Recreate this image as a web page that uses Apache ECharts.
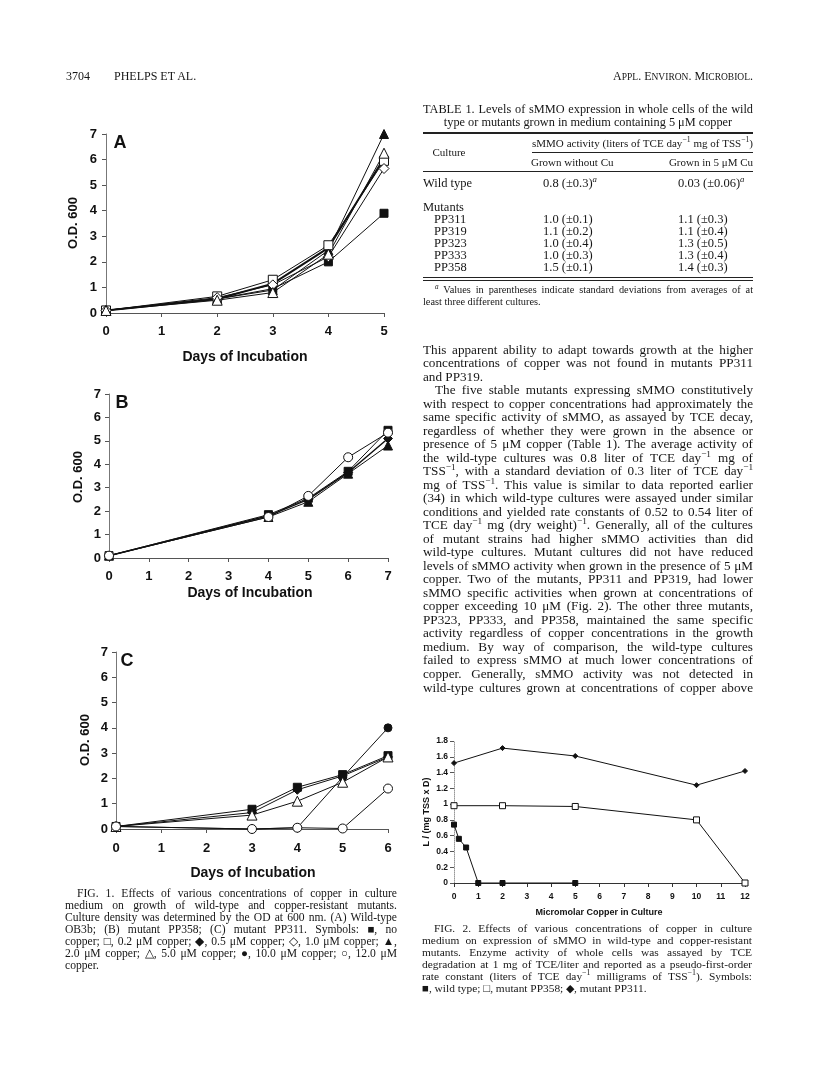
<!DOCTYPE html>
<html><head><meta charset="utf-8">
<script src="https://cdn.jsdelivr.net/npm/echarts@6/dist/echarts.min.js"></script>
<style>
html,body{margin:0;padding:0;background:#fff;}
#page{position:relative;width:816px;height:1081px;overflow:hidden;font-family:"Liberation Serif","Times New Roman",serif;color:#161616;}
#chart{position:absolute;left:0;top:0;width:816px;height:1081px;}
.rule{position:absolute;background:#222;}
sup{font-size:70%;line-height:0;vertical-align:super;}
</style></head><body><div id="page"><div id="chart"></div></div>
<script>
// ---------- Data: Fig. 1 ----------
const A_days = [0, 2, 3, 4, 5];
const A_noCu = [0.1, 0.55, 0.95, 2.0, 3.9];
const A_cu02 = [0.1, 0.65, 1.3, 2.65, 5.95];
const A_cu05 = [0.1, 0.55, 1.15, 2.55, 6.05];
const A_cu10 = [0.1, 0.6, 1.1, 2.2, 5.65];
const A_cu20 = [0.1, 0.55, 0.9, 2.45, 7.0];
const A_cu50 = [0.1, 0.5, 0.8, 2.3, 6.25];

const B_days = [0, 4, 5, 6, 7];
const B_noCu = [0.1, 1.85, 2.55, 3.7, 5.45];
const B_cu05 = [0.1, 1.8, 2.5, 3.65, 5.1];
const B_cu20 = [0.1, 1.75, 2.4, 3.6, 4.8];
const B_cu120 = [0.1, 1.75, 2.65, 4.3, 5.35];

const C_days = [0, 3, 4, 5, 6];
const C_noCu = [0.1, 0.78, 1.65, 2.15, 2.9];
const C_cu05 = [0.1, 0.65, 1.55, 2.1, 2.85];
const C_cu50 = [0.1, 0.55, 1.1, 1.85, 2.85];
const C_cu100 = [0.1, 0.0, 0.05, 2.05, 4.0];
const C_cu120 = [0.1, 0.0, 0.05, 0.02, 1.6];

// ---------- Data: Fig. 2 ----------
const F2_cuWild = [0, 0.2, 0.5, 1, 2, 5];
const F2_wild = [0.74, 0.56, 0.45, 0, 0, 0];
const F2_cuMut = [0, 2, 5, 10, 12];
const F2_pp358 = [0.98, 0.98, 0.97, 0.80, 0.0];
const F2_pp311 = [1.52, 1.71, 1.61, 1.24, 1.42];

// tick values
const F1_yTicks = [0, 7, 1];
const F2_yTicks = [0, 1.8, 0.2];
const F2_xTicks = [0, 12, 1];

// ---------- Text ----------
const bodyLines = [
 ["This apparent ability to adapt towards growth at the higher","j",0],
 ["concentrations of copper was not found in mutants PP311","j",0],
 ["and PP319.","l",0],
 ["The five stable mutants expressing sMMO constitutively","j",1],
 ["with respect to copper concentrations had approximately the","j",0],
 ["same specific activity of sMMO, as assayed by TCE decay,","j",0],
 ["regardless of whether they were grown in the absence or","j",0],
 ["presence of 5 μM copper (Table 1). The average activity of","j",0],
 ["the wild-type cultures was 0.8 liter of TCE day<sup>−1</sup> mg of","j",0],
 ["TSS<sup>−1</sup>, with a standard deviation of 0.3 liter of TCE day<sup>−1</sup>","j",0],
 ["mg of TSS<sup>−1</sup>. This value is similar to data reported earlier","j",0],
 ["(34) in which wild-type cultures were assayed under similar","j",0],
 ["conditions and yielded rate constants of 0.52 to 0.54 liter of","j",0],
 ["TCE day<sup>−1</sup> mg (dry weight)<sup>−1</sup>. Generally, all of the cultures","j",0],
 ["of mutant strains had higher sMMO activities than did","j",0],
 ["wild-type cultures. Mutant cultures did not have reduced","j",0],
 ["levels of sMMO activity when grown in the presence of 5 μM","j",0],
 ["copper. Two of the mutants, PP311 and PP319, had lower","j",0],
 ["sMMO specific activities when grown at concentrations of","j",0],
 ["copper exceeding 10 μM (Fig. 2). The other three mutants,","j",0],
 ["PP323, PP333, and PP358, maintained the same specific","j",0],
 ["activity regardless of copper concentrations in the growth","j",0],
 ["medium. By way of comparison, the wild-type cultures","j",0],
 ["failed to express sMMO at much lower concentrations of","j",0],
 ["copper. Generally, sMMO activity was not detected in","j",0],
 ["wild-type cultures grown at concentrations of copper above","j",0]
];
const fig1Caption = [
 ["FIG. 1. Effects of various concentrations of copper in culture","j",1],
 ["medium on growth of wild-type and copper-resistant mutants.","j",0],
 ["Culture density was determined by the OD at 600 nm. (A) Wild-type","j",0],
 ["OB3b; (B) mutant PP358; (C) mutant PP311. Symbols: ■, no","j",0],
 ["copper; □, 0.2 μM copper; ◆, 0.5 μM copper; ◇, 1.0 μM copper; ▲,","j",0],
 ["2.0 μM copper; △, 5.0 μM copper; ●, 10.0 μM copper; ○, 12.0 μM","j",0],
 ["copper.","l",0]
];
const fig2Caption = [
 ["FIG. 2. Effects of various concentrations of copper in culture","j",1],
 ["medium on expression of sMMO in wild-type and copper-resistant","j",0],
 ["mutants. Enzyme activity of whole cells was assayed by TCE","j",0],
 ["degradation at 1 mg of TCE/liter and reported as a pseudo-first-order","j",0],
 ["rate constant (liters of TCE day<sup>−1</sup> milligrams of TSS<sup>−1</sup>). Symbols:","j",0],
 ["■, wild type; □, mutant PP358; ◆, mutant PP311.","l",0]
];
const tableRows = [
 ["PP311","1.0 (±0.1)","1.1 (±0.3)"],
 ["PP319","1.1 (±0.2)","1.1 (±0.4)"],
 ["PP323","1.0 (±0.4)","1.3 (±0.5)"],
 ["PP333","1.0 (±0.3)","1.3 (±0.4)"],
 ["PP358","1.5 (±0.1)","1.4 (±0.3)"]
];

const page = document.getElementById('page');
function put(left, y, width, html, size, align) {
  const d = document.createElement('div');
  const lh = Math.round(size * 1.25);
  d.style.position = 'absolute';
  d.style.left = left + 'px';
  d.style.width = width + 'px';
  d.style.top = (y - lh / 2) + 'px';
  d.style.height = lh + 'px';
  d.style.lineHeight = lh + 'px';
  d.style.fontSize = size + 'px';
  d.style.whiteSpace = 'nowrap';
  d.style.textAlign = align === 'justify' ? 'left' : align;
  const s = document.createElement('span');
  s.innerHTML = html;
  d.appendChild(s);
  page.appendChild(d);
  const nat = s.getBoundingClientRect().width;
  const txt = s.textContent;
  if (align === 'justify') {
    const spaces = (txt.match(/ /g) || []).length;
    if (nat < width && spaces > 0) {
      s.style.wordSpacing = ((width - nat) / spaces) + 'px';
    } else if (nat > width) {
      s.style.letterSpacing = (-(nat - width) / txt.length) + 'px';
    }
  } else if (nat > width) {
    s.style.letterSpacing = (-(nat - width) / txt.length) + 'px';
  }
  return d;
}
function block(lines, left, width, y0, step, size, indent) {
  lines.forEach((ln, i) => {
    const ind = ln[2] ? indent : 0;
    put(left + ind, y0 + i * step, width - ind, ln[0], size, ln[1] === 'j' ? 'justify' : 'left');
  });
}
function rule(x, y, w, h) {
  const d = document.createElement('div');
  d.className = 'rule';
  d.style.left = x + 'px'; d.style.top = y + 'px';
  d.style.width = w + 'px'; d.style.height = h + 'px';
  page.appendChild(d);
}

// header
put(66, 76, 60, '3704', 12, 'left');
put(114, 76, 150, 'PHELPS ET AL.', 12, 'left');
put(553, 76, 200, 'A<span style="font-size:9.5px">PPL</span>. E<span style="font-size:9.5px">NVIRON</span>. M<span style="font-size:9.5px">ICROBIOL</span>.', 12, 'right');

// table
const TL = 423, TW = 330;
put(TL, 109, TW, 'TABLE 1. Levels of sMMO expression in whole cells of the wild', 12.3, 'justify');
put(TL, 122, TW, 'type or mutants grown in medium containing 5 μM copper', 12.3, 'center');
rule(TL, 132, TW, 1.5);
put(532, 143, 221, 'sMMO activity (liters of TCE day<sup>−1</sup> mg of TSS<sup>−1</sup>)', 11, 'justify');
put(TL, 152, 52, 'Culture', 11, 'center');
rule(532, 152, 221, 1);
put(531, 162, 120, 'Grown without Cu', 11, 'left');
put(640, 162, 113, 'Grown in 5 μM Cu', 11, 'right');
rule(TL, 171, TW, 1);
put(TL, 183, 100, 'Wild type', 12.5, 'left');
put(543, 183, 100, '0.8 (±0.3)<sup><i>a</i></sup>', 12.5, 'left');
put(678, 183, 100, '0.03 (±0.06)<sup><i>a</i></sup>', 12.5, 'left');
put(TL, 207, 100, 'Mutants', 12.5, 'left');
tableRows.forEach((r, i) => {
  const y = 219 + i * 12;
  put(434, y, 80, r[0], 12.5, 'left');
  put(543, y, 100, r[1], 12.5, 'left');
  put(678, y, 100, r[2], 12.5, 'left');
});
rule(TL, 277, TW, 1);
rule(TL, 280, TW, 1);
put(TL + 12, 289, TW - 12, '<sup><i>a</i></sup> Values in parentheses indicate standard deviations from averages of at', 10.3, 'justify');
put(TL, 301, TW, 'least three different cultures.', 10.3, 'left');

// body & captions
block(bodyLines, 423, 330, 349, 13.52, 13.2, 12);
block(fig1Caption, 65, 332, 893, 12, 11.6, 12);
block(fig2Caption, 422, 330, 928, 12, 11.4, 12);

// ---------- Chart ----------
const chart = echarts.init(document.getElementById('chart'), null, {renderer: 'canvas'});
const SANS = '"Liberation Sans", Arial, sans-serif';
const zip = (xs, ys) => xs.map((x, i) => [x, ys[i]]);

function xAx(g, max, fs, margin, lineColor) {
  return {type: 'value', gridIndex: g, min: 0, max: max, interval: 1,
    axisLine: {show: true, onZero: false, lineStyle: {color: lineColor, width: 1}},
    axisTick: {show: true, length: 4, lineStyle: {color: lineColor}},
    axisLabel: {fontFamily: SANS, fontWeight: 'bold', fontSize: fs, color: '#111', margin: margin},
    splitLine: {show: false}};
}
function yAx(g, t, fs, margin, lineStyle) {
  return {type: 'value', gridIndex: g, min: t[0], max: t[1], interval: t[2],
    axisLine: {show: true, onZero: false, lineStyle: lineStyle},
    axisTick: {show: true, length: 4, lineStyle: {color: '#555'}},
    axisLabel: {fontFamily: SANS, fontWeight: 'bold', fontSize: fs, color: '#111', margin: margin},
    splitLine: {show: false}};
}
function ser(g, xs, ys, sym, filled, size, lw) {
  return {type: 'line', xAxisIndex: g, yAxisIndex: g, data: zip(xs, ys),
    symbol: sym, symbolSize: size, showSymbol: true, clip: false,
    lineStyle: {color: '#111', width: lw || 1},
    itemStyle: {color: filled ? '#111' : '#fff', borderColor: '#111', borderWidth: 1},
    emphasis: {disabled: true}, z: filled ? 3 : 4};
}
function label(x, y, text, fs, rot) {
  return {type: 'text', x: x, y: y, rotation: rot || 0,
    style: {text: text, fontFamily: SANS, fontWeight: 'bold', fontSize: fs, fill: '#111',
      textAlign: 'center', textVerticalAlign: 'middle'}};
}

const option = {
  animation: false,
  grid: [
    {left: 106, top: 134, width: 278, height: 179, outerBoundsMode: 'none'},
    {left: 109, top: 394, width: 279, height: 164, outerBoundsMode: 'none'},
    {left: 116, top: 652, width: 272, height: 177, outerBoundsMode: 'none'},
    {left: 454, top: 741, width: 291, height: 142, outerBoundsMode: 'none'}
  ],
  xAxis: [
    xAx(0, 5, 13, 12, '#555'),
    xAx(1, 7, 13, 12, '#555'),
    xAx(2, 6, 13, 13, '#555'),
    Object.assign(xAx(3, F2_xTicks[1], 8.5, 9, '#333'), {min: F2_xTicks[0], interval: F2_xTicks[2]})
  ],
  yAxis: [
    yAx(0, F1_yTicks, 13, 9, {color: '#777', width: 1}),
    yAx(1, F1_yTicks, 13, 8, {color: '#777', width: 1}),
    yAx(2, F1_yTicks, 13, 8, {color: '#777', width: 1}),
    yAx(3, F2_yTicks, 8.5, 6, {color: '#999', width: 1, type: 'dotted'})
  ],
  series: [
    ser(0, A_days, A_noCu, 'rect', true, 8),
    ser(0, A_days, A_cu02, 'rect', false, 9),
    ser(0, A_days, A_cu05, 'diamond', true, 9, 2),
    ser(0, A_days, A_cu10, 'diamond', false, 10),
    ser(0, A_days, A_cu20, 'triangle', true, 9),
    ser(0, A_days, A_cu50, 'triangle', false, 10),

    ser(1, B_days, B_noCu, 'rect', true, 8),
    ser(1, B_days, B_cu05, 'diamond', true, 9, 1.5),
    ser(1, B_days, B_cu20, 'triangle', true, 9),
    ser(1, B_days, B_cu120, 'circle', false, 9),

    ser(2, C_days, C_noCu, 'rect', true, 8),
    ser(2, C_days, C_cu05, 'diamond', true, 9),
    ser(2, C_days, C_cu50, 'triangle', false, 10),
    ser(2, C_days, C_cu100, 'circle', true, 8),
    ser(2, C_days, C_cu120, 'circle', false, 9),

    ser(3, F2_cuWild, F2_wild, 'rect', true, 5),
    ser(3, F2_cuMut, F2_pp358, 'rect', false, 6),
    ser(3, F2_cuMut, F2_pp311, 'diamond', true, 5)
  ],
  graphic: [
    label(120, 143, 'A', 18), label(122, 403, 'B', 18), label(127, 661, 'C', 18),
    label(245, 357, 'Days of Incubation', 14),
    label(250, 593, 'Days of Incubation', 14),
    label(253, 873, 'Days of Incubation', 14),
    label(73, 223, 'O.D. 600', 13, Math.PI / 2),
    label(78, 477, 'O.D. 600', 13, Math.PI / 2),
    label(85, 740, 'O.D. 600', 13, Math.PI / 2),
    label(599, 913, 'Micromolar Copper in Culture', 9),
    label(427, 812, 'L / (mg TSS x D)', 9, Math.PI / 2)
  ]
};
chart.setOption(option);
</script>
</body></html>
